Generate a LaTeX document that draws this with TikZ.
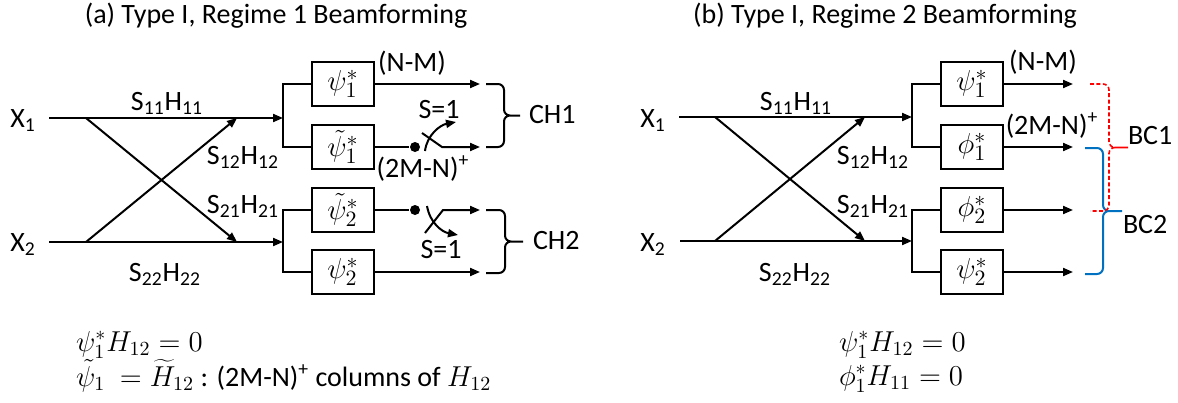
\documentclass[tikz,border=0pt]{standalone}
\usepackage[no-math]{fontspec}
\setmainfont{Carlito}
\usetikzlibrary{arrows.meta}
\definecolor{bcblue}{RGB}{0,112,192}
\definecolor{bcred}{RGB}{255,0,0}
\newcommand\rbrc[6]{% options, x0, ytop, ybot, xv, xtip
  \draw[rounded corners=3pt,#1] (#2,#3) -- (#5,#3) -- (#5,{(#3+#4)/2}) -- (#6,{(#3+#4)/2})
    (#6,{(#3+#4)/2}) -- (#5,{(#3+#4)/2}) -- (#5,#4) -- (#2,#4);}
\begin{document}
\begin{tikzpicture}[x=0.5pt,y=-0.5pt,
  font=\fontsize{14}{17}\selectfont,
  line width=1pt,
  >={Triangle[length=5pt,width=4pt]},
  bfbox/.style={draw,line width=1pt,minimum width=31pt,minimum height=22pt,inner sep=0pt,
    font=\fontsize{15.5}{18}\selectfont},
  lbl/.style={anchor=base,inner sep=0pt},
  lblw/.style={anchor=base west,inner sep=0pt},
  eqn/.style={anchor=base west,inner sep=0pt,font=\fontsize{14.5}{17}\selectfont},
  dotn/.style={circle,fill,inner sep=0pt,minimum size=5pt},
  redbr/.style={bcred,line width=0.8pt,dash pattern=on 2pt off 1.2pt},
  bluebr/.style={bcblue,line width=1pt}]
\useasboundingbox (0,0) rectangle (1178,402);

% titles
\node[lbl] (ta) at (276,23) {(a) Type I, Regime 1 Beamforming};
\node[lbl] (tb) at (885,23) {(b) Type I, Regime 2 Beamforming};

% ===== panel (a) =====
\node[lbl] (xa1) at (23,127) {X\textsubscript{1}};
\node[lbl] (xa2) at (23,251) {X\textsubscript{2}};
\coordinate (a1s) at (49,118);  \coordinate (a1c) at (86,118);
\coordinate (a1d) at (237,118); \coordinate (a1b) at (283,118);
\coordinate (a2s) at (49,242);  \coordinate (a2c) at (86,242);
\coordinate (a2d) at (237,242); \coordinate (a2b) at (283,242);
\draw[->] (a1s) -- (a1b);
\draw[->] (a2s) -- (a2b);
\draw[->] (a1c) -- (a2d);
\draw[->] (a2c) -- (a1d);
\node[lbl] (la11) at (167,110) {S\textsubscript{11}H\textsubscript{11}};
\node[lbl] (la12) at (243,164) {S\textsubscript{12}H\textsubscript{12}};
\node[lbl] (la21) at (243,213) {S\textsubscript{21}H\textsubscript{21}};
\node[lbl] (la22) at (165,281) {S\textsubscript{22}H\textsubscript{22}};

\node[bfbox] (pa1) at (343,84)  {$\psi_1^*$};
\node[bfbox] (pa2) at (343,147) {$\tilde\psi_1^*$};
\node[bfbox] (pa3) at (343,210) {$\tilde\psi_2^*$};
\node[bfbox] (pa4) at (343,272) {$\psi_2^*$};
\draw (pa1.west) -| (a1b) |- (pa2.west);
\draw (pa3.west) -| (a2b) |- (pa4.west);

\coordinate (oa1) at (480,84);
\coordinate (oa2) at (480,147);
\coordinate (oa3) at (480,210);
\coordinate (oa4) at (480,272);
\draw[->] (pa1.east) -- (oa1);
\draw[->] (pa4.east) -- (oa4);
% switch 1
\node[dotn] (da2) at (415,147) {};
\draw (pa2.east) -- (da2);
\coordinate (sa2a) at (422,133); \coordinate (sa2b) at (442,147);
\draw[->] (sa2a) -- (sa2b) -- (oa2);
\coordinate (ca2s) at (425,151); \coordinate (ca2e) at (456,122);
\draw[->] (ca2s) .. controls (427,135) and (440,125) .. (ca2e);
% switch 2
\node[dotn] (da3) at (415,210) {};
\draw (pa3.east) -- (da3);
\coordinate (sa3a) at (425,233); \coordinate (sa3b) at (443,210);
\draw[->] (sa3a) -- (sa3b) -- (oa3);
\coordinate (ca3s) at (427,206); \coordinate (ca3e) at (458,235);
\draw[->] (ca3s) .. controls (430,223) and (442,232) .. (ca3e);

\node[lbl] (nma) at (412,71) {(N-M)};
\node[lbl] (s1a) at (439,118) {S=1};
\node[lbl] (mna) at (423,177) {(2M-N)\textsuperscript{+}};
\node[lbl] (s2a) at (441,258) {S=1};

\rbrc{}{486}{84}{147}{504}{520}
\rbrc{}{486}{210}{273}{505}{523}
\node[lblw] (ch1) at (528,123) {CH1};
\node[lblw] (ch2) at (532,249) {CH2};

\node[eqn] (eqa1) at (75,351) {$\psi_1^*H_{12}=0$};
\node[eqn] (eqa2) at (75,386) {$\tilde\psi_1\ =\widetilde{H}_{12}$ \fontsize{14}{17}\selectfont: (2M-N)\textsuperscript{+} columns of $H_{12}$};

% ===== panel (b) =====
\node[lbl] (xb1) at (653,127) {X\textsubscript{1}};
\node[lbl] (xb2) at (653,251) {X\textsubscript{2}};
\coordinate (b1s) at (679,117);  \coordinate (b1c) at (715,117);
\coordinate (b1d) at (865,117);  \coordinate (b1b) at (912,117);
\coordinate (b2s) at (680,241);  \coordinate (b2c) at (715,241);
\coordinate (b2d) at (865,241);  \coordinate (b2b) at (912,241);
\draw[->] (b1s) -- (b1b);
\draw[->] (b2s) -- (b2b);
\draw[->] (b1c) -- (b2d);
\draw[->] (b2c) -- (b1d);
\node[lbl] (lb11) at (796,110) {S\textsubscript{11}H\textsubscript{11}};
\node[lbl] (lb12) at (873,164) {S\textsubscript{12}H\textsubscript{12}};
\node[lbl] (lb21) at (873,213) {S\textsubscript{21}H\textsubscript{21}};
\node[lbl] (lb22) at (795,281) {S\textsubscript{22}H\textsubscript{22}};

\node[bfbox] (pb1) at (972,84)  {$\psi_1^*$};
\node[bfbox] (pb2) at (972,147) {$\phi_1^*$};
\node[bfbox] (pb3) at (972,210) {$\phi_2^*$};
\node[bfbox] (pb4) at (972,272) {$\psi_2^*$};
\draw (pb1.west) -| (b1b) |- (pb2.west);
\draw (pb3.west) -| (b2b) |- (pb4.west);
\coordinate (ob1) at (1073,84);
\coordinate (ob2) at (1073,147);
\coordinate (ob3) at (1073,210);
\coordinate (ob4) at (1073,272);
\draw[->] (pb1.east) -- (ob1);
\draw[->] (pb2.east) -- (ob2);
\draw[->] (pb3.east) -- (ob3);
\draw[->] (pb4.east) -- (ob4);

\node[lbl] (nmb) at (1043,70) {(N-M)};
\node[lbl] (mnb) at (1052,134) {(2M-N)\textsuperscript{+}};

\rbrc{bluebr}{1085}{148}{274}{1103}{1122}
\rbrc{redbr}{1090}{84}{211}{1109}{1128}
\node[lblw] (bc1) at (1127,144) {BC1};
\node[lblw] (bc2) at (1122,233) {BC2};

\node[eqn] (eqb1) at (838,351) {$\psi_1^*H_{12}=0$};
\node[eqn] (eqb2) at (838,385) {$\phi_1^*H_{11}=0$};
\end{tikzpicture}
\end{document}
